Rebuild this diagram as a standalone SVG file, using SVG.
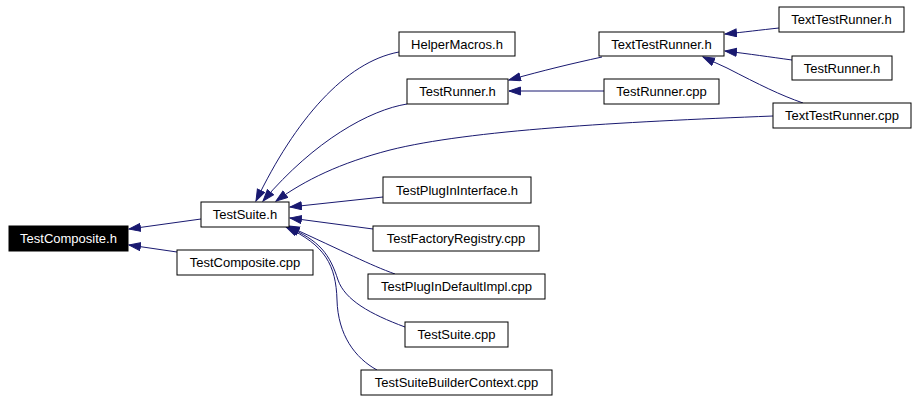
<svg xmlns="http://www.w3.org/2000/svg" width="917" height="400" viewBox="0 0 917 400">
<style>
.n rect{fill:#fff;stroke:#000;stroke-width:1}
.n text{font-family:"Liberation Sans",Arial,sans-serif;font-size:13px;text-anchor:middle;fill:#000}
#n0 rect{fill:#000}
#n0 text{fill:#fff}
.e path{fill:none;stroke:#191970;stroke-width:1;marker-end:url(#a)}
</style>
<defs>
<marker id="a" markerUnits="userSpaceOnUse" markerWidth="13" markerHeight="10" refX="12" refY="4.5" orient="auto">
<path d="M0.5,0.5 L12,4.5 L0.5,8.5 z" fill="#191970" stroke="#191970"/>
</marker>
</defs>
<rect width="917" height="400" fill="#fff"/>
<g id="edges" class="e">
<path d="M201,219 L129,229"/>
<path d="M177,252 L129,245"/>
<path d="M399,52 C345,62 295,120 256,201"/>
<path d="M407,104 C370,110 315,140 263,201"/>
<path d="M773,116 C620,122 470,130 390,150 C340,163 305,180 276,201"/>
<path d="M383,197 L290,207"/>
<path d="M373,229 L290,218"/>
<path d="M395,274 C370,265 345,252 288,226"/>
<path d="M405,327 C370,314 345,300 338,280 C330,255 320,240 287,227"/>
<path d="M377,370 C355,358 338,335 337,300 C336,265 325,245 286,227"/>
<path d="M602,57 C570,64 545,70 509,80"/>
<path d="M604,91 L509,91"/>
<path d="M779,28 C760,30 745,32 725,34"/>
<path d="M792,60 C770,57 750,54 725,51"/>
<path d="M803,103 C780,95 760,85 727,68 L703,57"/>
</g>
<g id="n0" class="n"><rect x="9" y="226" width="119" height="25"/><text x="68.5" y="243">TestComposite.h</text></g>
<g id="n1" class="n"><rect x="201" y="202" width="88" height="25"/><text x="245" y="219">TestSuite.h</text></g>
<g id="n2" class="n"><rect x="177" y="250" width="136" height="25"/><text x="245" y="267">TestComposite.cpp</text></g>
<g id="n3" class="n"><rect x="399" y="32" width="116" height="24"/><text x="457" y="48.5">HelperMacros.h</text></g>
<g id="n4" class="n"><rect x="407" y="79" width="101" height="25"/><text x="457.5" y="96">TestRunner.h</text></g>
<g id="n5" class="n"><rect x="599" y="32" width="125" height="24"/><text x="661.5" y="48.5">TextTestRunner.h</text></g>
<g id="n6" class="n"><rect x="779" y="7" width="125" height="25"/><text x="841.5" y="24">TextTestRunner.h</text></g>
<g id="n7" class="n"><rect x="792" y="56" width="100" height="24"/><text x="842" y="72.5">TestRunner.h</text></g>
<g id="n8" class="n"><rect x="604" y="79" width="115" height="25"/><text x="661.5" y="96">TestRunner.cpp</text></g>
<g id="n9" class="n"><rect x="773" y="103" width="138" height="25"/><text x="842" y="120">TextTestRunner.cpp</text></g>
<g id="n10" class="n"><rect x="383" y="177" width="148" height="26"/><text x="457" y="194.5">TestPlugInInterface.h</text></g>
<g id="n11" class="n"><rect x="373" y="226" width="166" height="25"/><text x="456" y="243">TestFactoryRegistry.cpp</text></g>
<g id="n12" class="n"><rect x="368" y="274" width="177" height="25"/><text x="456.5" y="291">TestPlugInDefaultImpl.cpp</text></g>
<g id="n13" class="n"><rect x="405" y="322" width="103" height="25"/><text x="456.5" y="339">TestSuite.cpp</text></g>
<g id="n14" class="n"><rect x="361" y="370" width="191" height="25"/><text x="456.5" y="387">TestSuiteBuilderContext.cpp</text></g>
</svg>
